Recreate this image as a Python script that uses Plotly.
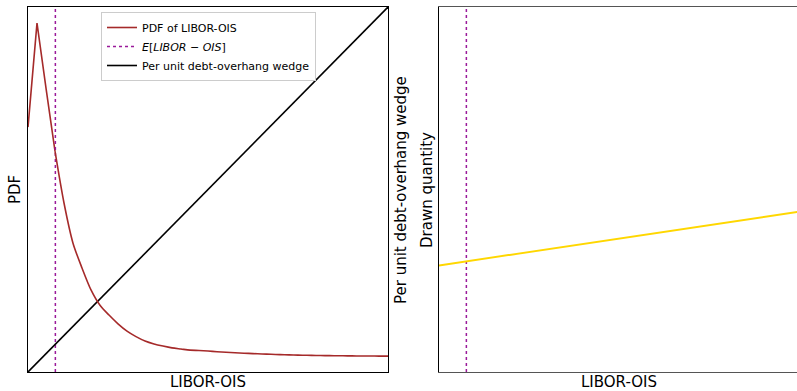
import plotly.graph_objects as go

W, H = 797, 391

# ---- data (normalised axes 0..1) ----
x_grid = [round(0.025 * k, 3) for k in range(41)]
pdf_vals = [0.671, 0.956, 0.778, 0.605, 0.463, 0.353, 0.285, 0.225, 0.183, 0.156,
            0.132, 0.112, 0.097, 0.085, 0.077, 0.071, 0.066, 0.063, 0.060, 0.059,
            0.0575, 0.0556, 0.054, 0.0526, 0.0515, 0.0504, 0.0493, 0.0485, 0.0477, 0.0468,
            0.0463, 0.0458, 0.0452, 0.0449, 0.0447, 0.0444, 0.0441, 0.0438, 0.0438, 0.0436,
            0.0436]
expected_x = 0.076
wedge_x = [0.0, 1.0]
wedge_y = [0.0, 1.0]
drawn_x = [0.0, 1.0]
drawn_y = [0.292, 0.439]

FONT = "DejaVu Sans"
PDF_COLOR = "#a52a2a"
DOT_COLOR = "#9a1a9a"
fig = go.Figure()

# sharp peak part (linear) + smooth tail (spline)
fig.add_trace(go.Scatter(x=x_grid[:4], y=pdf_vals[:4], mode="lines", name="PDF of LIBOR-OIS",
                         line=dict(color=PDF_COLOR, width=1.6), xaxis="x", yaxis="y"))
fig.add_trace(go.Scatter(x=[expected_x, expected_x], y=[0, 1], mode="lines",
                         name="<i>E</i>[<i>LIBOR</i> − <i>OIS</i>]",
                         line=dict(color=DOT_COLOR, width=1.5, dash="dot"), xaxis="x", yaxis="y"))
fig.add_trace(go.Scatter(x=wedge_x, y=wedge_y, mode="lines", name="Per unit debt-overhang wedge",
                         line=dict(color="black", width=1.6), xaxis="x", yaxis="y"))
fig.add_trace(go.Scatter(x=x_grid[3:], y=pdf_vals[3:], mode="lines", showlegend=False,
                         line=dict(color=PDF_COLOR, width=1.6, shape="spline", smoothing=0.8),
                         xaxis="x", yaxis="y"))

fig.add_trace(go.Scatter(x=[expected_x, expected_x], y=[0, 1], mode="lines", showlegend=False,
                         line=dict(color=DOT_COLOR, width=1.5, dash="dot"), xaxis="x2", yaxis="y2"))
fig.add_trace(go.Scatter(x=drawn_x, y=drawn_y, mode="lines", showlegend=False,
                         line=dict(color="#ffd700", width=2), xaxis="x2", yaxis="y2"))

ydom = [(H - 372) / H, (H - 7) / H]
ax_common = dict(showticklabels=False, ticks="", showgrid=False, zeroline=False)

fig.update_layout(
    width=W, height=H, margin=dict(l=0, r=0, t=0, b=0),
    paper_bgcolor="white", plot_bgcolor="white",
    font=dict(family=FONT, size=15, color="black"),
    xaxis=dict(domain=[28 / W, 388 / W], range=[0, 1], showline=True, linecolor="black",
               linewidth=1.2, mirror=True, **ax_common),
    yaxis=dict(domain=ydom, range=[0, 1], showline=True, linecolor="black",
               linewidth=1.2, mirror=True, **ax_common),
    xaxis2=dict(domain=[439 / W, 1.0], range=[0, (W - 439) / 360], showline=True,
                linecolor="#555555", linewidth=1.2, mirror=True, anchor="y2", **ax_common),
    yaxis2=dict(domain=ydom, range=[0, 1], showline=True, linecolor="black",
                linewidth=1.2, mirror=False, anchor="x2", **ax_common),
    legend=dict(x=101 / W, y=1 - 12 / H, xanchor="left", yanchor="top",
                bgcolor="white", bordercolor="#cccccc", borderwidth=1,
                font=dict(family=FONT, size=11), tracegroupgap=0),
    showlegend=True,
)

annos = [
    dict(text="PDF", x=15 / W, y=1 - 189 / H, textangle=-90),
    dict(text="LIBOR-OIS", x=208 / W, y=1 - 382 / H, textangle=0),
    dict(text="LIBOR-OIS", x=619 / W, y=1 - 382 / H, textangle=0),
    dict(text="Per unit debt-overhang wedge", x=401 / W, y=1 - 190 / H, textangle=-90),
    dict(text="Drawn quantity", x=427 / W, y=1 - 190 / H, textangle=-90),
]
for a in annos:
    fig.add_annotation(xref="paper", yref="paper", xanchor="center", yanchor="middle",
                       showarrow=False, font=dict(family=FONT, size=15, color="black"), **a)

fig.write_html("out.html")
